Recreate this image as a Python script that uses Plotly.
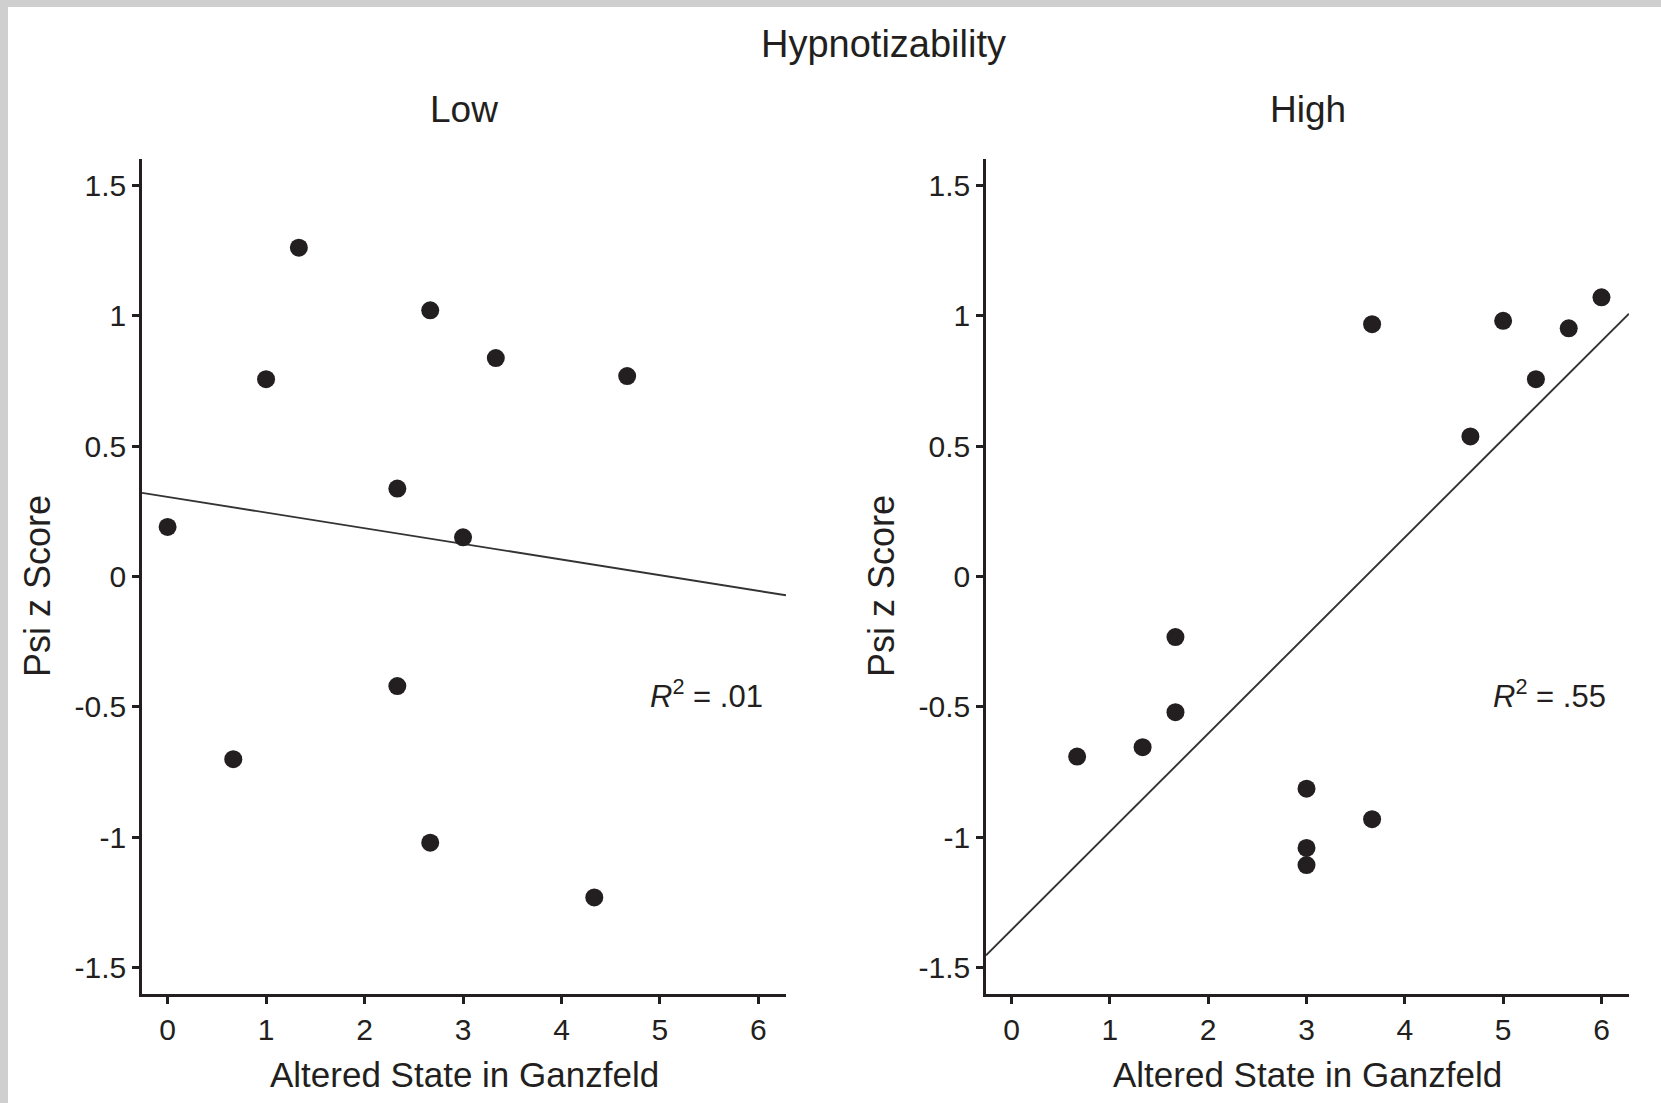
import plotly.graph_objects as go

# ---- data ----
low_x = [0, 0.667, 1, 1.333, 2.333, 2.333, 2.667, 2.667, 3, 3.333, 4.333, 4.667]
low_y = [0.19, -0.70, 0.756, 1.26, 0.337, -0.42, 1.02, -1.02, 0.15, 0.837, -1.23, 0.768]

high_x = [0.667, 1.333, 1.667, 1.667, 3, 3, 3, 3.667, 3.667, 4.667, 5, 5.333, 5.667, 6]
high_y = [-0.69, -0.654, -0.232, -0.52, -0.813, -1.04, -1.106, 0.967, -0.93, 0.537, 0.98, 0.756, 0.951, 1.07]

low_fit = {"intercept": 0.305, "slope": -0.060}
high_fit = {"intercept": -1.354, "slope": 0.376}

x_tick_vals = [0, 1, 2, 3, 4, 5, 6]
y_tick_vals = [-1.5, -1, -0.5, 0, 0.5, 1, 1.5]
y_tick_text = ["-1.5", "-1", "-0.5", "0", "0.5", "1", "1.5"]

panel_titles = ["Low", "High"]
r2_labels = ["<i>R</i><sup>2</sup> = .01", "<i>R</i><sup>2</sup> = .55"]
main_title = "Hypnotizability"
x_title = "Altered State in Ganzfeld"
y_title = "Psi z Score"

X_RANGE = [-0.26, 6.28]
Y_RANGE = [-1.6, 1.6]

FONT = "Liberation Sans, Arial, sans-serif"
INK = "#231f20"

W, H = 1661, 1103
dom_left = [142 / W, 786 / W]
dom_right = [986 / W, 1629 / W]
dom_y = [1 - 994 / H, 1 - 159 / H]

fig = go.Figure()

for i, (xs, ys, fit) in enumerate([(low_x, low_y, low_fit), (high_x, high_y, high_fit)]):
    xa = "x" if i == 0 else "x2"
    ya = "y" if i == 0 else "y2"
    fx = [X_RANGE[0], X_RANGE[1]]
    fy = [fit["intercept"] + fit["slope"] * v for v in fx]
    fig.add_trace(go.Scatter(x=fx, y=fy, mode="lines", xaxis=xa, yaxis=ya,
                             line=dict(color="#333333", width=1.9), showlegend=False,
                             hoverinfo="skip"))
    fig.add_trace(go.Scatter(x=xs, y=ys, mode="markers", xaxis=xa, yaxis=ya,
                             marker=dict(color=INK, size=18, line=dict(width=0)),
                             showlegend=False))

axis_common = dict(showline=True, linecolor=INK, linewidth=2.5, ticks="outside",
                   ticklen=7, tickwidth=2.5, tickcolor=INK, showgrid=False, zeroline=False,
                   tickfont=dict(family=FONT, size=30, color=INK), fixedrange=True)

fig.update_layout(
    width=W, height=H,
    margin=dict(l=0, r=0, t=0, b=0),
    paper_bgcolor="white", plot_bgcolor="white",
    xaxis=dict(domain=dom_left, range=X_RANGE, tickvals=x_tick_vals, anchor="y", **axis_common),
    yaxis=dict(domain=dom_y, range=Y_RANGE, tickvals=y_tick_vals, ticktext=y_tick_text, anchor="x", **axis_common),
    xaxis2=dict(domain=dom_right, range=X_RANGE, tickvals=x_tick_vals, anchor="y2", **axis_common),
    yaxis2=dict(domain=dom_y, range=Y_RANGE, tickvals=y_tick_vals, ticktext=y_tick_text, anchor="x2", **axis_common),
)

ann = []
ann.append(dict(text=main_title, x=834 * 1.0593 / W, y=1 - 44 / H, xref="paper", yref="paper",
                showarrow=False, font=dict(family=FONT, size=38, color=INK),
                xanchor="center", yanchor="middle"))
for dom, t in zip([dom_left, dom_right], panel_titles):
    ann.append(dict(text=t, x=(dom[0] + dom[1]) / 2, y=1 - 109 / H, xref="paper", yref="paper",
                    showarrow=False, font=dict(family=FONT, size=37, color=INK),
                    xanchor="center", yanchor="middle"))
    ann.append(dict(text=x_title, x=(dom[0] + dom[1]) / 2, y=1 - 1074 / H, xref="paper", yref="paper",
                    showarrow=False, font=dict(family=FONT, size=35, color=INK),
                    xanchor="center", yanchor="middle"))
    ann.append(dict(text=y_title, x=dom[0] - 105 / W, y=1 - 586 / H, xref="paper", yref="paper",
                    showarrow=False, font=dict(family=FONT, size=36, color=INK), textangle=-90,
                    xanchor="center", yanchor="middle"))
for xa, ya, t in [("x", "y", r2_labels[0]), ("x2", "y2", r2_labels[1])]:
    ann.append(dict(text=t, x=5.47, y=-0.45, xref=xa, yref=ya, showarrow=False,
                    font=dict(family=FONT, size=31, color=INK), xanchor="center", yanchor="middle"))
fig.update_layout(annotations=ann)

# scanned grey border strips (top and left)
fig.add_shape(type="rect", xref="paper", yref="paper", x0=0, x1=1, y0=1 - 7 / H, y1=1,
              fillcolor="#cfcfcf", line=dict(width=0), layer="below")
fig.add_shape(type="rect", xref="paper", yref="paper", x0=0, x1=8 / W, y0=0, y1=1,
              fillcolor="#cfcfcf", line=dict(width=0), layer="below")

fig.write_html("out.html", config={"displayModeBar": False},
               post_script="document.body.style.margin='0';document.body.style.overflow='hidden';")
